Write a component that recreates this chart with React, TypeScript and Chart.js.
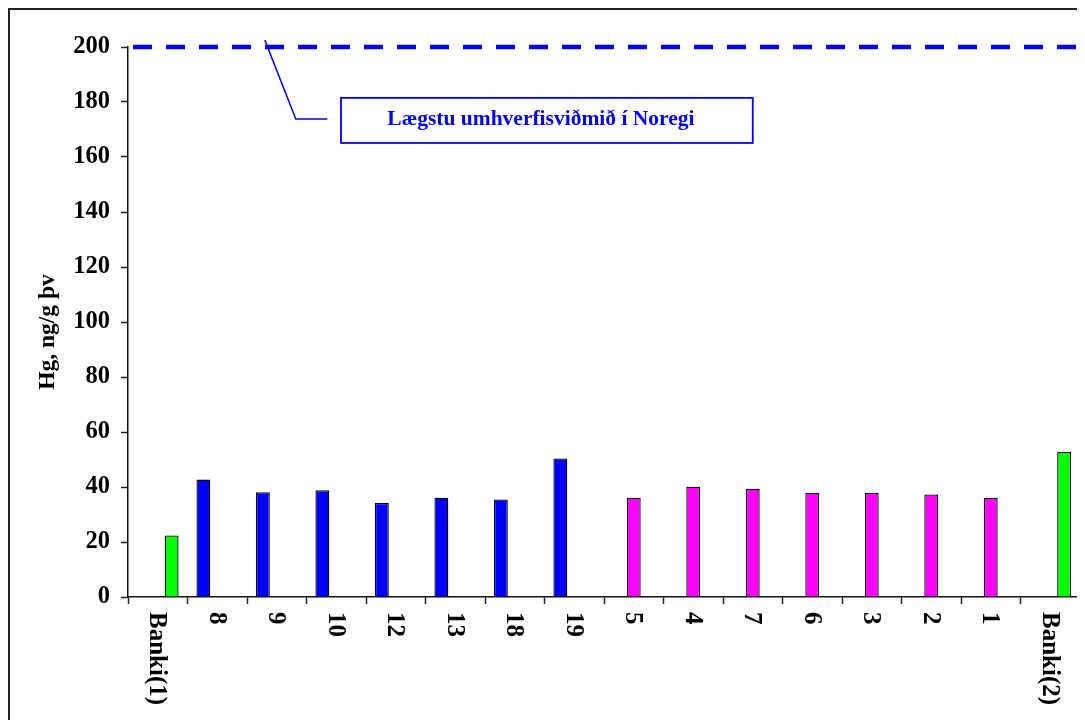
import React, { useEffect, useRef } from 'react';
import { Chart, registerables } from 'chart.js';

Chart.register(...registerables);

const categories = ['Banki(1)', '8', '9', '10', '12', '13', '18', '19', '5', '4', '7', '6', '3', '2', '1', 'Banki(2)'];
const blueValues = [null, 42.7, 38.1, 38.8, 34.2, 36.1, 35.5, 50.4, null, null, null, null, null, null, null, null];
const magentaValues = [null, null, null, null, null, null, null, null, 36.1, 40.1, 39.4, 37.9, 37.9, 37.3, 36.1, null];
const greenValues = [22.4, null, null, null, null, null, null, null, null, null, null, null, null, null, null, 52.8];

const yMin = 0;
const yMax = 200;
const yStep = 20;
const yTitle = 'Hg, ng/g þv';

const limitValue = 200;
const limitLabel = 'Lægstu umhverfisviðmið í Noregi';
// annotation anchors in data units (category index, value)
const leaderPoints = [
  [1.8, 202.5],
  [2.32, 173.8],
  [2.85, 173.8],
];
const boxFrom = [3.08, 181.5];
const boxTo = [10.0, 165.1];

const FONT = '"Liberation Serif", "Times New Roman", Times, serif';
const BLUE = '#0000FF';

const overlayPlugin = {
  id: 'overlay',
  afterDraw(chart: any) {
    const { ctx, chartArea } = chart;
    const x = chart.scales.x;
    const y = chart.scales.y;
    ctx.save();
    // rotated category labels (clockwise)
    ctx.font = `bold 25px ${FONT}`;
    ctx.fillStyle = '#000';
    ctx.textAlign = 'left';
    ctx.textBaseline = 'middle';
    categories.forEach((c, i) => {
      const px = x.getPixelForTick(i);
      ctx.save();
      ctx.translate(px - 1, chartArea.bottom + 15);
      ctx.rotate(Math.PI / 2);
      ctx.fillText(c, 0, 0);
      ctx.restore();
    });

    // y axis title
    ctx.save();
    ctx.font = `bold 23.5px ${FONT}`;
    ctx.textAlign = 'center';
    ctx.textBaseline = 'middle';
    ctx.translate(38, (chartArea.top + chartArea.bottom) / 2 + 10);
    ctx.rotate(-Math.PI / 2);
    ctx.fillText(yTitle, 0, 0);
    ctx.restore();

    // dashed limit line
    const ly = y.getPixelForValue(limitValue);
    ctx.strokeStyle = BLUE;
    ctx.lineWidth = 4.5;
    ctx.setLineDash([19, 14]);
    ctx.beginPath();
    ctx.moveTo(chartArea.left + 5, ly);
    ctx.lineTo(chart.width, ly);
    ctx.stroke();
    ctx.setLineDash([]);

    // leader line
    ctx.lineWidth = 1.5;
    ctx.beginPath();
    leaderPoints.forEach((p, i) => {
      const px = x.getPixelForValue(p[0]);
      const py = y.getPixelForValue(p[1]);
      if (i === 0) ctx.moveTo(px, py);
      else ctx.lineTo(px, py);
    });
    ctx.stroke();

    // annotation box
    const bx1 = x.getPixelForValue(boxFrom[0]);
    const by1 = y.getPixelForValue(boxFrom[1]);
    const bx2 = x.getPixelForValue(boxTo[0]);
    const by2 = y.getPixelForValue(boxTo[1]);
    ctx.fillStyle = '#fff';
    ctx.fillRect(bx1, by1, bx2 - bx1, by2 - by1);
    ctx.lineWidth = 1.8;
    ctx.strokeRect(bx1, by1, bx2 - bx1, by2 - by1);
    ctx.fillStyle = BLUE;
    ctx.font = `bold 21.5px ${FONT}`;
    ctx.textAlign = 'center';
    ctx.textBaseline = 'middle';
    ctx.fillText(limitLabel, (bx1 + bx2) / 2 - 6, (by1 + by2) / 2 - 1);
    ctx.restore();
  },
};

export default function App() {
  const canvasRef = useRef<HTMLCanvasElement | null>(null);

  useEffect(() => {
    document.body.style.overflow = 'hidden';
    document.documentElement.style.overflow = 'hidden';
    const canvas = canvasRef.current;
    if (!canvas) return;
    const chart = new Chart(canvas, {
      type: 'bar',
      data: {
        labels: categories,
        datasets: [
          {
            label: 'A',
            data: blueValues,
            backgroundColor: BLUE,
            borderColor: '#000',
            borderWidth: 1.3,
          },
          {
            label: 'B',
            data: magentaValues,
            backgroundColor: '#FF00FF',
            borderColor: '#000',
            borderWidth: 1.3,
          },
          {
            label: 'C',
            data: greenValues,
            backgroundColor: '#00FF00',
            borderColor: '#000',
            borderWidth: 1.3,
          },
        ],
      },
      options: {
        responsive: false,
        animation: false,
        layout: { padding: { top: 37, right: 5, left: 0, bottom: 0 } },
        datasets: {
          bar: { categoryPercentage: 0.7, barPercentage: 1 },
        },
        plugins: {
          legend: { display: false },
          tooltip: { enabled: false },
          title: { display: false },
        },
        scales: {
          x: {
            offset: true,
            grid: {
              offset: true,
              drawOnChartArea: false,
              drawTicks: true,
              tickLength: 7,
              tickColor: '#222',
              tickWidth: 1.5,
            },
            border: { display: true, color: '#111', width: 1.5 },
            ticks: { display: false },
            afterFit(scale: any) {
              scale.height = 123;
            },
          },
          y: {
            min: yMin,
            max: yMax,
            grid: {
              drawOnChartArea: false,
              drawTicks: true,
              tickLength: 7,
              tickColor: '#222',
              tickWidth: 1.5,
            },
            border: { display: true, color: '#111', width: 1.5 },
            ticks: {
              stepSize: yStep,
              color: '#000',
              padding: 11,
              font: { family: FONT, size: 24.5, weight: 'bold' },
            },
            title: { display: false },
            afterFit(scale: any) {
              scale.width = 118;
            },
          },
        },
      },
      plugins: [overlayPlugin],
    } as any);
    return () => chart.destroy();
  }, []);

  return (
    <div
      style={{
        borderLeft: '2px solid #222',
        borderTop: '2px solid #222',
        width: 1075,
        height: 710,
        overflow: 'hidden',
      }}
    >
      <canvas ref={canvasRef} width={1075} height={710} style={{ display: 'block' }} />
    </div>
  );
}
